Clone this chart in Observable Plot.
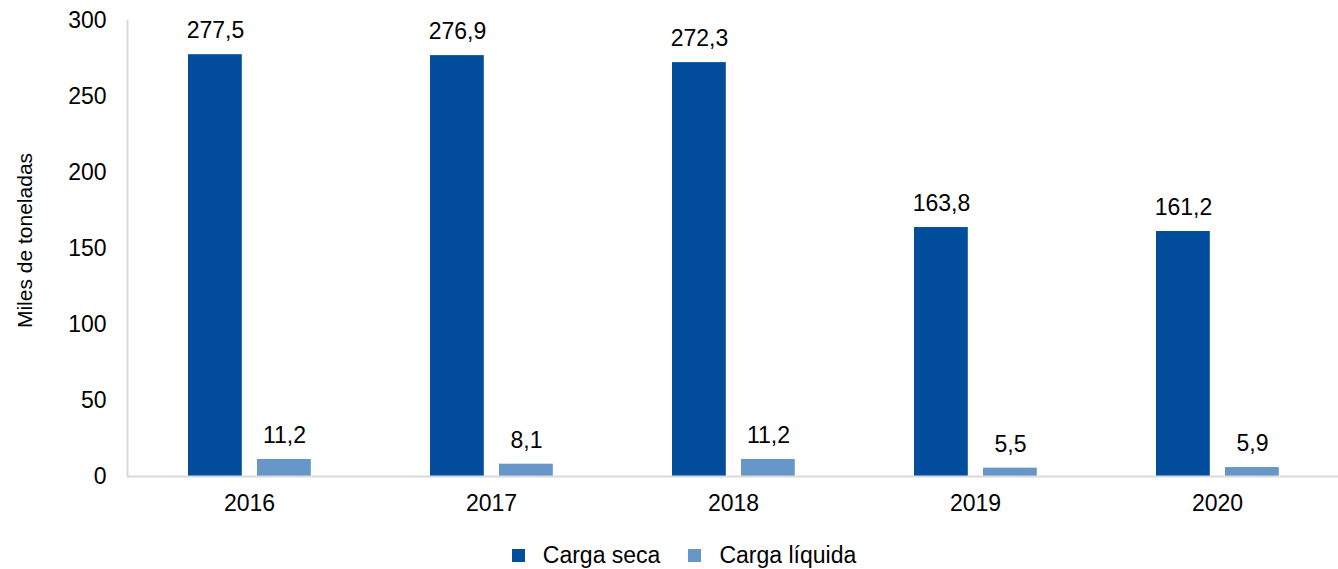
<!DOCTYPE html>
<html>
<head>
<meta charset="utf-8">
<script src="https://cdn.jsdelivr.net/npm/d3@7"></script>
<script src="https://cdn.jsdelivr.net/npm/@observablehq/plot@0.6"></script>
<style>
  body { margin: 0; background: #fff; font-family: "Liberation Sans", Arial, sans-serif; }
  #legend { display: flex; justify-content: center; align-items: center; height: 44px; padding-top: 8px; font-size: 23px; color: #000; padding-left: 30px; }
  .item { display: flex; align-items: center; margin: 0 14px; }
  .sw { width: 13px; height: 13px; margin-right: 18px; }
</style>
</head>
<body>
<div id="chart"></div>
<div id="legend"></div>
<script>
const years = ["2016", "2017", "2018", "2019", "2020"];
const cargaSeca = [277.5, 276.9, 272.3, 163.8, 161.2];
const cargaLiquida = [11.2, 8.1, 11.2, 5.5, 5.9];
const seriesNames = ["Carga seca", "Carga líquida"];
const seriesColors = ["#024e9c", "#6797c8"];
const yTicks = [0, 50, 100, 150, 200, 250, 300];

const fmt = v => v.toFixed(1).replace(".", ",");
const seca = years.map((y, i) => ({year: y, value: cargaSeca[i]}));
const liq = years.map((y, i) => ({year: y, value: cargaLiquida[i]}));

const W = 1338;
const chart = Plot.plot({
  width: W,
  height: 525,
  marginLeft: 127,
  marginRight: 0,
  marginTop: 20,
  marginBottom: 49,
  style: {fontFamily: "'Liberation Sans', Arial, sans-serif", fontSize: "23px", color: "#000", background: "#fff"},
  x: {type: "band", domain: years, padding: 0, label: null},
  y: {domain: [0, 300], label: null},
  marks: [
    Plot.barY(seca, {x: "year", y: "value", fill: seriesColors[0], insetLeft: 60, insetRight: 128.2}),
    Plot.barY(liq, {x: "year", y: "value", fill: seriesColors[1], insetLeft: 129, insetRight: 59.2}),
    Plot.ruleY([0], {stroke: "#d9d9d9", strokeWidth: 2}),
    Plot.ruleX([years[0]], {x: d => d, dx: -122, stroke: "#d9d9d9", strokeWidth: 2}),
    Plot.text(seca, {x: "year", y: "value", text: d => fmt(d.value), dx: -34, dy: -24, lineAnchor: "middle", fill: "#000"}),
    Plot.text(liq, {x: "year", y: "value", text: d => fmt(d.value), dx: 35, dy: -24, lineAnchor: "middle", fill: "#000"}),
    Plot.axisY({ticks: yTicks, tickSize: 0, tickPadding: 21, label: null, fill: "#000"}),
    Plot.axisX({tickSize: 0, tickPadding: 18, label: null, fill: "#000"}),
    Plot.text(["Miles de toneladas"], {frameAnchor: "left", text: d => d, rotate: -90, dx: -102, dy: -8, fontSize: 21, fill: "#000", textAnchor: "middle", lineAnchor: "middle"})
  ]
});
document.getElementById("chart").appendChild(chart);

const legend = document.getElementById("legend");
seriesNames.forEach((n, i) => {
  const it = document.createElement("div");
  it.className = "item";
  it.innerHTML = `<div class="sw" style="background:${seriesColors[i]}"></div><span>${n}</span>`;
  legend.appendChild(it);
});
</script>
</body>
</html>
